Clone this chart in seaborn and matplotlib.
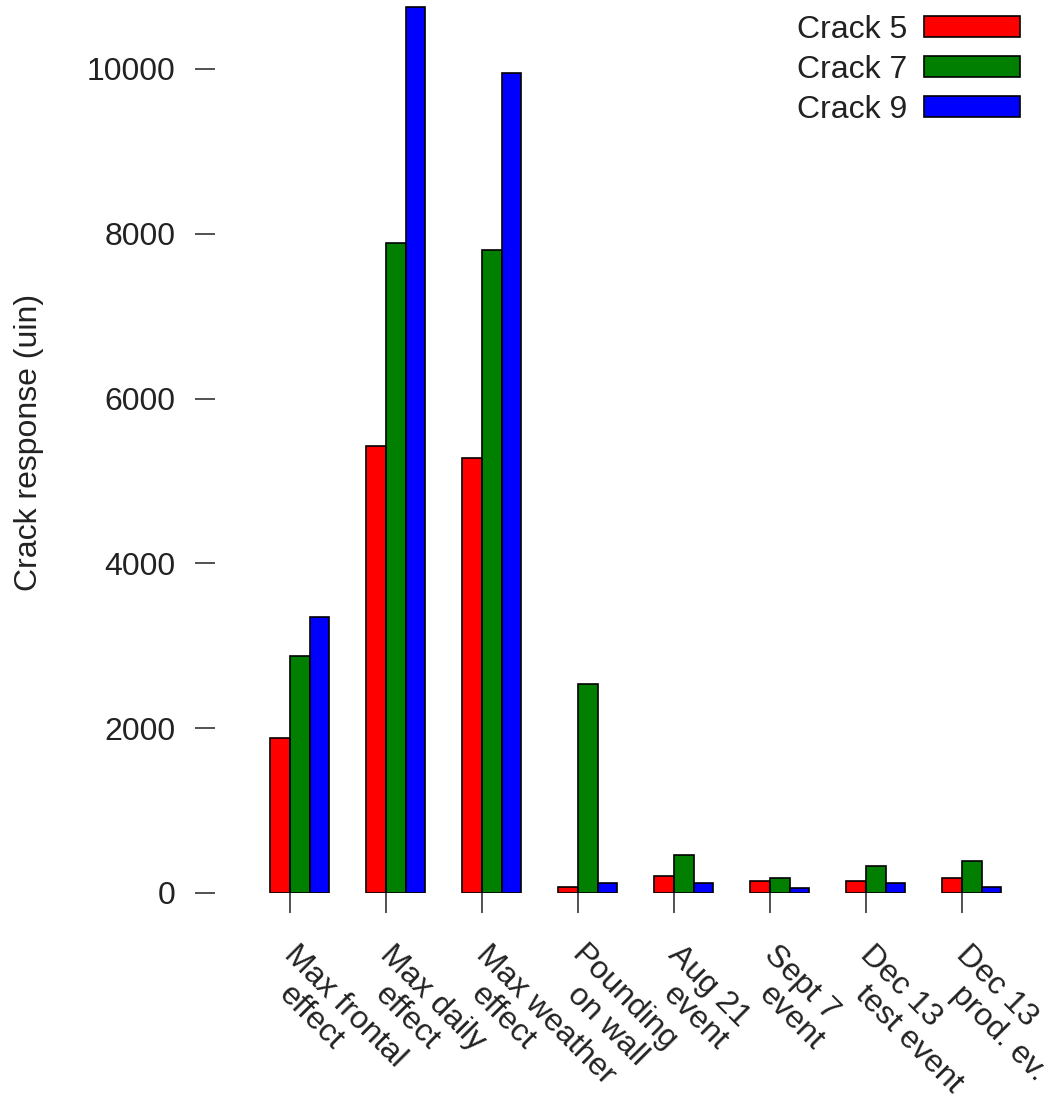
import matplotlib
matplotlib.use("Agg")
import matplotlib.pyplot as plt
import matplotlib.transforms as mtransforms
import pandas as pd
import seaborn as sns

# Crack response per event, in micro-inches
events = [
    "Max frontal\neffect",
    "Max daily\neffect",
    "Max weather\neffect",
    "Pounding\non wall",
    "Aug 21\nevent",
    "Sept 7\nevent",
    "Dec 13\ntest event",
    "Dec 13\nprod. ev.",
]
crack5 = [1880, 5425, 5280, 75, 205, 145, 145, 180]
crack7 = [2875, 7890, 7805, 2535, 460, 180, 330, 390]
crack9 = [3350, 10750, 9950, 120, 120, 60, 120, 75]
series_names = ["Crack 5", "Crack 7", "Crack 9"]
series_colors = ["#ff0000", "#007f00", "#0000ff"]
y_ticks = [0, 2000, 4000, 6000, 8000, 10000]

rows = []
for name, vals in zip(series_names, [crack5, crack7, crack9]):
    for ev, v in zip(events, vals):
        rows.append({"event": ev, "crack": name, "value": v})
df = pd.DataFrame(rows)

sns.set_theme(style="white")
plt.rcParams["font.family"] = ["Liberation Sans", "DejaVu Sans"]
FS = 23
TXT = "#222222"

W, H = 1051, 1101
fig = plt.figure(figsize=(W / 100, H / 100), dpi=100)
ax = fig.add_axes([215 / W, (H - 893) / H, 825 / W, 893 / H])

group_width = 0.61
sns.barplot(
    data=df, x="event", y="value", hue="crack",
    order=events, hue_order=series_names, palette=series_colors,
    width=group_width, gap=0, edgecolor="black", linewidth=1.2,
    saturation=1, ax=ax,
)

for s in ax.spines.values():
    s.set_visible(False)

ax.set_xlim(-0.883, 7.711)
ax.set_ylim(0, 10837)

# y axis: tick marks only, no axis line
ax.set_yticks(y_ticks)
ax.set_yticklabels([str(t) for t in y_ticks], fontsize=FS, color=TXT)
ax.tick_params(axis="y", which="major", direction="out", length=14.5,
               width=1.1, color=TXT, pad=14, left=True)

# x axis: ticks at the left edge of each group's middle bar
half_bar = group_width / len(series_names) / 2
ax.set_xticks([i - half_bar for i in range(len(events))])
ax.set_xticklabels([""] * len(events))
ax.tick_params(axis="x", which="major", direction="out", length=14.5,
               width=1.1, color=TXT, bottom=True)
ax.set_xlabel("")

# rotated two-line category labels under each group centre
base = mtransforms.blended_transform_factory(ax.transData, ax.transAxes)
line_offsets = [(-17, -63), (-22, -103)]
for i, ev in enumerate(events):
    for line, (dx, dy) in zip(ev.split("\n"), line_offsets):
        tr = mtransforms.offset_copy(base, fig=fig, x=dx, y=dy, units="dots")
        ax.text(i, 0, line, transform=tr, rotation=-45,
                rotation_mode="anchor", ha="left", va="baseline",
                fontsize=FS, color=TXT)

ax.set_ylabel("Crack response (uin)", fontsize=FS, color=TXT)
ax.yaxis.set_label_coords((44 - 215) / 825, 0.505)

handles, labels = ax.get_legend_handles_labels()
leg = ax.legend(
    handles, labels, loc="upper right",
    bbox_to_anchor=(1020 / W, 1 - 14.5 / H), bbox_transform=fig.transFigure,
    frameon=False, markerfirst=False, fontsize=FS,
    handlelength=3.0, handleheight=0.65, handletextpad=0.53,
    labelspacing=0.32, borderpad=0, borderaxespad=0, title=None,
)
for t in leg.get_texts():
    t.set_color(TXT)

fig.savefig("out.png", dpi=100)
